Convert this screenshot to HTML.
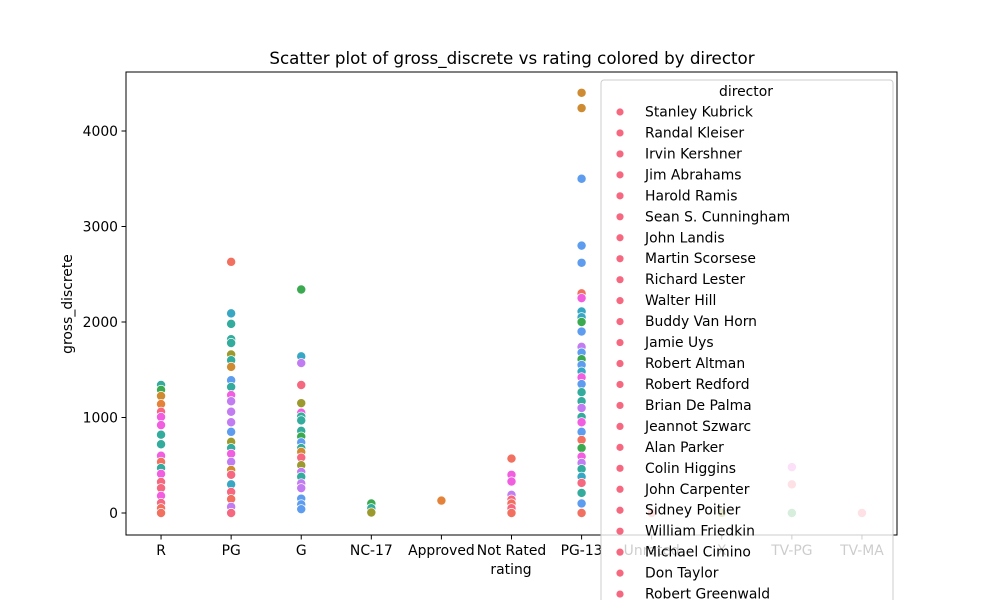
<!DOCTYPE html>
<html><head><meta charset="utf-8"><style>
body{margin:0;background:#fff;font-family:"Liberation Sans","DejaVu Sans",sans-serif}
svg text{font-family:"DejaVu Sans","Liberation Sans",sans-serif}
</style></head><body>
<svg id="chart" width="1000" height="600" viewBox="0 0 1000 600">
<rect width="1000" height="600" fill="#fff"/>
<text x="512" y="64" font-size="16.7" text-anchor="middle">Scatter plot of gross_discrete vs rating colored by director</text>
<g id="grid"></g>
<g id="points"></g>
<rect x="126" y="72" width="771" height="463" fill="none" stroke="#000" stroke-width="1"/>
<text x="511" y="574" font-size="13.9" text-anchor="middle">rating</text>
<text transform="translate(72,304) rotate(-90)" font-size="13.9" text-anchor="middle">gross_discrete</text>
<g id="legend"></g>
</svg>
<script>
const categories=["R","PG","G","NC-17","Approved","Not Rated","PG-13","Unrated","X","TV-PG","TV-MA"];
const yTicks=[0,1000,2000,3000,4000];
const ratingIdx=[
0,0,0,0,0,0,0,0,0,0,0,0,0,0,0,0,0,0,0,
1,1,1,1,1,1,1,1,1,1,1,1,1,1,1,1,1,1,1,1,1,1,1,1,1,1,1,
2,2,2,2,2,2,2,2,2,2,2,2,2,2,2,2,2,2,2,2,2,2,
3,3,3,4,5,5,5,5,5,5,5,5,
6,6,6,6,6,6,6,6,6,6,6,6,6,6,6,6,6,6,6,6,6,6,6,6,6,6,6,6,6,6,6,6,6,6,
7,8,9,9,9,10];
const grossValues=[
1340,1290,1225,1140,1060,1005,920,820,720,600,535,470,410,325,260,180,105,50,0,
2630,2090,1980,1820,1780,1660,1600,1530,1390,1320,1235,1170,1060,950,850,745,680,620,535,450,400,300,220,145,65,0,0,
2340,1640,1570,1340,1150,1050,1010,970,860,800,740,680,640,580,500,430,380,310,260,150,90,40,
100,50,5,130,570,400,330,190,140,100,50,0,
4400,4240,3500,2800,2620,2300,2250,2110,2050,2000,1900,1740,1680,1610,1550,1480,1420,1350,1265,1170,1100,1005,950,850,765,680,590,525,460,380,315,210,100,0,
0,0,480,300,0,0];
const directorColor=[
"teal","green","gold","orange","pink","magenta","magenta","teal","teal","magenta","red","teal","magenta","pink","pink","magenta","pink","red","red",
"red","cyan","teal","teal","teal","olive","teal","gold","blue","teal","magenta","purple","purple","purple","blue","olive","teal","magenta","purple","gold","pink","cyan","pink","red","purple","red","pink",
"green","cyan","purple","pink","olive","magenta","teal","teal","teal","green","blue","teal","gold","pink","olive","purple","teal","purple","purple","blue","blue","blue",
"green","teal","olive","orange","red","magenta","magenta","purple","pink","red","pink","red",
"gold","gold","blue","blue","blue","red","magenta","cyan","cyan","green","blue","purple","blue","green","blue","cyan","magenta","blue","teal","teal","purple","teal","magenta","blue","red","green","magenta","purple","teal","cyan","pink","teal","blue","red",
"red","olive","magenta","pink","green","pink"];
const palette={red:"#f2705f",pink:"#f6687f",orange:"#e5823a",gold:"#ce8b32",olive:"#9c9a2e",green:"#3ba94f",teal:"#33ab9d",cyan:"#37a7c4",blue:"#5e9cef",purple:"#c27cf1",magenta:"#f15fe0"};
const directors=["Stanley Kubrick","Randal Kleiser","Irvin Kershner","Jim Abrahams","Harold Ramis","Sean S. Cunningham","John Landis","Martin Scorsese","Richard Lester","Walter Hill","Buddy Van Horn","Jamie Uys","Robert Altman","Robert Redford","Brian De Palma","Jeannot Szwarc","Alan Parker","Colin Higgins","John Carpenter","Sidney Poitier","William Friedkin","Michael Cimino","Don Taylor","Robert Greenwald"];

const NS="http://www.w3.org/2000/svg";
const xPos=i=>126+(i+0.5)*(771/11);
const yPos=v=>513-v*0.0955;
function mk(tag,attrs,parent){const e=document.createElementNS(NS,tag);for(const k in attrs)e.setAttribute(k,attrs[k]);parent.appendChild(e);return e;}
const grid=document.getElementById('grid');
categories.forEach((c,i)=>{
  const t=mk('line',{x1:xPos(i),x2:xPos(i),y1:535,y2:539.5,stroke:'#000'},grid);
  
  
  const l=mk('text',{x:xPos(i),y:555,'font-size':13.9,'text-anchor':'middle'},grid);
  l.textContent=c;
  
  
});
yTicks.forEach(v=>{
  const t=mk('line',{x1:121.5,x2:126,y1:yPos(v),y2:yPos(v),stroke:'#000'},grid);
  
  
  const l=mk('text',{x:118,y:yPos(v)+5,'font-size':13.9,'text-anchor':'end'},grid);
  l.textContent=v;
  
  
});
const pts=document.getElementById('points');
grossValues.forEach((v,i)=>{
  const c=mk('circle',{cx:xPos(ratingIdx[i]),cy:yPos(v),r:4.6,fill:palette[directorColor[i]],stroke:'#fff','stroke-width':0.75},pts);
  
  
});
const lg=document.getElementById('legend');
const box=mk('rect',{x:601,y:80,width:292,height:540,rx:3,fill:'#fff','fill-opacity':0.8,stroke:'#ccc'},lg);


const lt=mk('text',{x:746,y:96,'font-size':13.9,'text-anchor':'middle'},lg);
lt.textContent='director';


directors.forEach((d,i)=>{
  const y=111.5+i*20.96;
  const dot=mk('circle',{cx:620,cy:y+0.5,r:3.6,fill:'#f6687f'},lg);
  
  
  const t=mk('text',{x:645,y:y+5,'font-size':13.9},lg);
  t.textContent=d;
  
  
});
</script>
</body></html>
